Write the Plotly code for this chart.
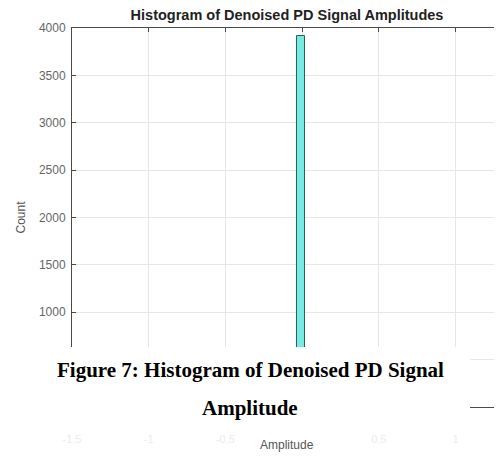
import plotly.graph_objects as go

# histogram (one dominant bin, rest ~0)
bin_centers = [-0.01]
bin_counts = [3920]
bin_width = 0.052

# x tick labels are washed out in the picture; the one at 0 sits under the axis title
x_ticks = [-1.5, -1.0, -0.5, 0, 0.5, 1.0]
x_tick_labels = ["-1.5", "-1", "-0.5", "", "0.5", "1"]
# 0 and 500 are covered by the caption box
y_ticks = [0, 500, 1000, 1500, 2000, 2500, 3000, 3500, 4000]
y_tick_labels = ["", "", "1000", "1500", "2000", "2500", "3000", "3500", "4000"]

caption_lines = ["Figure 7: Histogram of Denoised PD Signal", "Amplitude"]

# the page body has an 8px margin, so the figure is drawn 8px in from the corner
W, H, OFF = 502 - 8, 456 - 8, 8

fig = go.Figure()
fig.add_trace(go.Bar(
    x=bin_centers,
    y=bin_counts,
    width=bin_width,
    marker=dict(color="#74ece2", line=dict(color="#2f5f5d", width=1)),
    showlegend=False,
))

axis_common = dict(
    showline=True, linecolor="#4a4a4a", linewidth=1,
    ticks="inside", ticklen=4, tickcolor="#4a4a4a",
    showgrid=True, gridcolor="#e6e6e6", gridwidth=1,
    zeroline=False,
)

fig.update_xaxes(
    range=[-1.5, 1.303],
    tickvals=x_ticks, ticktext=x_tick_labels,
    tickfont=dict(family="Liberation Sans, Arial", size=11, color="#ececec"),
    ticklabelstandoff=22,
    mirror="ticks",
    **axis_common,
)
fig.update_yaxes(
    range=[0, 4000],
    tickvals=y_ticks, ticktext=y_tick_labels,
    tickfont=dict(family="Liberation Sans, Arial", size=12, color="#666666"),
    ticklabelstandoff=3,
    **axis_common,
)

fig.update_layout(
    width=W, height=H,
    margin=dict(l=72 - OFF, r=0, t=28 - OFF, b=456 - 407),
    paper_bgcolor="white", plot_bgcolor="white",
    bargap=0,
    title=dict(
        text="<b>Histogram of Denoised PD Signal Amplitudes</b>",
        x=0.5, xref="paper", xanchor="center",
        y=1 - (15 - OFF) / H, yref="container", yanchor="middle",
        font=dict(family="Liberation Sans, Arial", size=14.5, color="#222222"),
    ),
)

# axis titles
fig.add_annotation(text="Amplitude", xref="paper", yref="paper", x=0.5, y=0,
                   yanchor="middle", yshift=-38, showarrow=False,
                   font=dict(family="Liberation Sans, Arial", size=12, color="#555555"))
fig.add_annotation(text="Count", xref="paper", yref="paper", x=0, y=0.5,
                   xanchor="center", xshift=-52, textangle=-90, showarrow=False,
                   font=dict(family="Liberation Sans, Arial", size=12, color="#555555"))

# white caption box pasted over the lower part of the chart
fig.add_shape(type="rect", xref="paper", yref="paper",
              x0=(33 - 72) / 430, x1=(470 - 72) / 430,
              y0=(407 - 430) / 379, y1=(407 - 347) / 379,
              fillcolor="white", line=dict(width=0), layer="above")

for line, ypix in zip(caption_lines, [370, 408]):
    fig.add_annotation(text="<b>" + line + "</b>", xref="paper", yref="paper",
                       x=(250 - 72) / 430, y=(407 - ypix) / 379,
                       xanchor="center", yanchor="middle", showarrow=False,
                       font=dict(family="Liberation Serif, Times New Roman", size=21, color="black"))

fig.write_html("out.html")
